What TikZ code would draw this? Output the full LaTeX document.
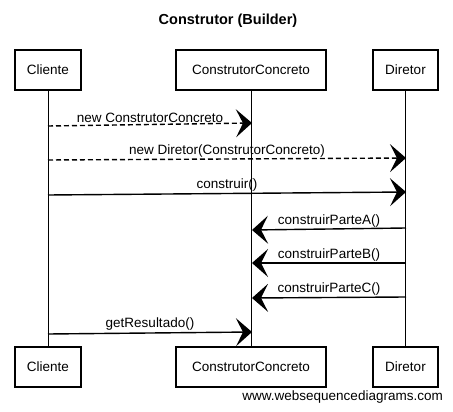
\documentclass[tikz,border=0pt]{standalone}
\usepackage{fontspec}
\setmainfont{Liberation Sans}
\usetikzlibrary{arrows.meta}
\tikzset{
	actor/.style={draw, fill=white, line width=1.1pt, minimum height=40pt, inner sep=0pt, font=\fontsize{13.5}{16}\selectfont},
	lifeline/.style={line width=1pt},
	msg/.style={line width=1.4pt, -{Stealth[length=16pt, width=28pt, inset=7pt]}},
	msgdash/.style={msg, dash pattern=on 5pt off 3pt},
	msglabel/.style={midway, above, inner sep=1.5pt, font=\fontsize{13.5}{16}\selectfont}
}

\begin{document}
\begin{tikzpicture}[x=1pt, y=-1pt]
		%%%%% START %%%%%
		\useasboundingbox (0, 0) rectangle (453, 412);
		
		\node[font=\bfseries\fontsize{14.5}{17}\selectfont] (title) at (228, 21) {Construtor (Builder)};
		
		\node[actor, minimum width=66pt] (cliTop) at (48, 70) {Cliente};
		\node[actor, minimum width=150pt] (ccTop) at (251, 70) {ConstrutorConcreto};
		\node[actor, minimum width=65pt] (dirTop) at (405.5, 70) {Diretor};
		
		\node[actor, minimum width=66pt] (cliBot) at (48, 367) {Cliente};
		\node[actor, minimum width=150pt] (ccBot) at (251, 367) {ConstrutorConcreto};
		\node[actor, minimum width=65pt] (dirBot) at (405.5, 367) {Diretor};
		
		\draw[lifeline] (cliTop) -- (cliBot);
		\draw[lifeline] (ccTop) -- (ccBot);
		\draw[lifeline] (dirTop) -- (dirBot);
		
		% points on the lifelines
		\coordinate (cli1) at (48, 126);
		\coordinate (cc1) at (252, 123);
		\coordinate (cli2) at (48, 160);
		\coordinate (dir2) at (406, 158);
		\coordinate (cli3) at (48, 195);
		\coordinate (dir3) at (406, 192);
		\coordinate (dir4) at (406, 228);
		\coordinate (cc4) at (252, 230);
		\coordinate (dir5) at (406, 263);
		\coordinate (cc5) at (252, 263);
		\coordinate (dir6) at (406, 297);
		\coordinate (cc6) at (252, 298);
		\coordinate (cli7) at (48, 334);
		\coordinate (cc7) at (252, 332);
		
		\draw[msgdash] (cli1) -- node[msglabel] (m1) {new ConstrutorConcreto} (cc1);
		\draw[msgdash] (cli2) -- node[msglabel] (m2) {new Diretor(ConstrutorConcreto)} (dir2);
		\draw[msg] (cli3) -- node[msglabel] (m3) {construir()} (dir3);
		\draw[msg] (dir4) -- node[msglabel] (m4) {construirParteA()} (cc4);
		\draw[msg] (dir5) -- node[msglabel] (m5) {construirParteB()} (cc5);
		\draw[msg] (dir6) -- node[msglabel] (m6) {construirParteC()} (cc6);
		\draw[msg] (cli7) -- node[msglabel] (m7) {getResultado()} (cc7);
		
		\node[anchor=east, inner sep=0pt, font=\fontsize{13.5}{16}\selectfont] (site) at (443, 397) {www.websequencediagrams.com};
		
		%%%%% END %%%%%
\end{tikzpicture}
\end{document}
